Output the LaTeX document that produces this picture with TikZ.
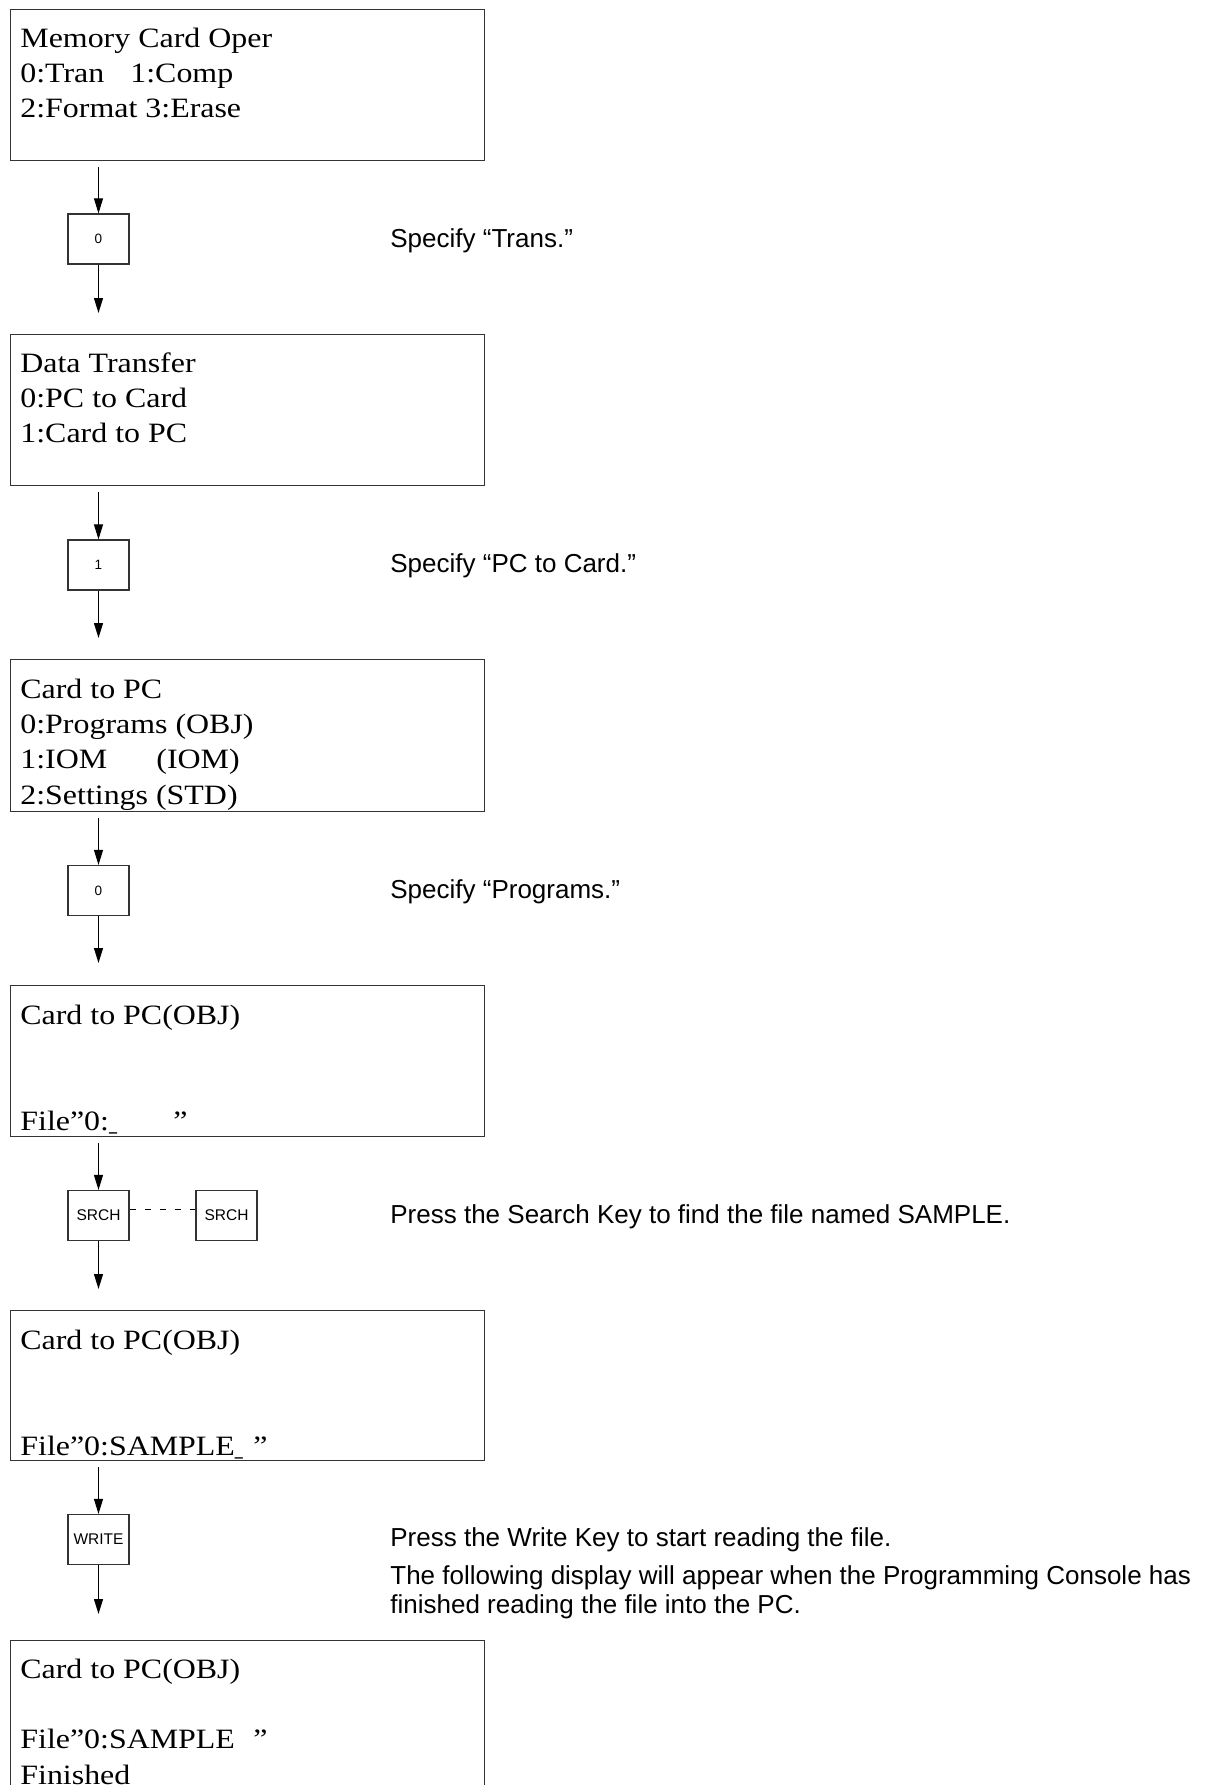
\documentclass[tikz,border=0pt]{standalone}
\usepackage{fontspec}
\setmainfont{Liberation Serif}
\newfontfamily\lcd[FakeStretch=1.14]{Liberation Serif}
\newfontfamily\hsans{Liberation Sans}
\usetikzlibrary{arrows.meta}
\tikzset{
  screen/.style={draw=black!80, line width=0.65pt, anchor=north west, minimum width=237pt, inner sep=0pt},
  lcdtext/.style={anchor=north west, inner sep=0pt, align=left, font=\lcd\fontsize{14pt}{17.6pt}\selectfont},
  keybox/.style={draw=black!80, line width=0.6pt, minimum width=30.5pt, minimum height=25pt, inner sep=0pt, font=\hsans\fontsize{7.75pt}{9pt}\selectfont},
  digit/.style={font=\hsans\fontsize{6.75pt}{8pt}\selectfont},
  note/.style={anchor=base west, inner sep=0pt, font=\hsans\fontsize{13pt}{14.5pt}\selectfont},
  arr/.style={line width=0.5pt, -{Triangle[length=7.5pt,width=4.5pt]}},
}
\begin{document}
\begin{tikzpicture}[x=0.5pt,y=-0.5pt]
\useasboundingbox (0,0) rectangle (1207,1785);
\clip (0,0) rectangle (1207,1785);

% screens
\node[screen, minimum height=75.5pt] (s1) at (9.5,9) {};
\node[screen, minimum height=75.5pt] (s2) at (9.5,334) {};
\node[screen, minimum height=76pt] (s3) at (9.5,659) {};
\node[screen, minimum height=75.5pt] (s4) at (9.5,985) {};
\node[screen, minimum height=75pt] (s5) at (9.5,1310) {};
\node[screen, minimum height=85pt] (s6) at (9.5,1640) {};

\node[lcdtext] (s1t) at ([xshift=5.25pt]s1.north west) {\rule{0pt}{19pt}Memory Card Oper\\\rlap{0:Tran}\hspace{55pt}1:Comp\\2:Format 3:Erase};
\node[lcdtext] (s2t) at ([xshift=5.25pt]s2.north west) {\rule{0pt}{19pt}Data Transfer\\0:PC to Card\\1:Card to PC};
\node[lcdtext] (s3t) at ([xshift=5.25pt]s3.north west) {\rule{0pt}{19.5pt}Card to PC\\0:Programs (OBJ)\\\rlap{1:IOM}\hspace{68pt}(IOM)\\2:Settings (STD)};
\node[lcdtext] (s4t) at ([xshift=5.25pt]s4.north west) {\rule{0pt}{19.5pt}Card to PC(OBJ)\\\mbox{}\\\mbox{}\\\rlap{File”0:\scalebox{0.5}[1]{\_}}\hspace{76.5pt}”};
\node[lcdtext] (s5t) at ([xshift=5.25pt]s5.north west) {\rule{0pt}{19.5pt}Card to PC(OBJ)\\\mbox{}\\\mbox{}\\\rlap{File”0:SAMPLE\scalebox{0.5}[1]{\_}}\hspace{116.5pt}”};
\node[lcdtext] (s6t) at ([xshift=5.25pt]s6.north west) {\rule{0pt}{19pt}Card to PC(OBJ)\\\mbox{}\\\rlap{File”0:SAMPLE}\hspace{116.5pt}”\\Finished};

% keys
\node[keybox] (k1) at (98.5,239) {\hsans\fontsize{6.75pt}{8pt}\selectfont 0};
\node[keybox] (k2) at (98.5,565) {\hsans\fontsize{6.75pt}{8pt}\selectfont 1};
\node[keybox] (k3) at (98.5,890.5) {\hsans\fontsize{6.75pt}{8pt}\selectfont 0};
\node[keybox] (k4a) at (98.5,1215.5) {SRCH};
\node[keybox] (k4b) at (226.5,1215.5) {SRCH};
\node[keybox] (k5) at (98.5,1539.5) {WRITE};

% arrows
\draw[arr, shorten <=3pt] (k1 |- s1.south) -- (k1.north);
\draw[arr, shorten >=10.5pt] (k1.south) -- (k1 |- s2.north);
\draw[arr, shorten <=3pt] (k2 |- s2.south) -- (k2.north);
\draw[arr, shorten >=10.5pt] (k2.south) -- (k2 |- s3.north);
\draw[arr, shorten <=3pt] (k3 |- s3.south) -- (k3.north);
\draw[arr, shorten >=11pt] (k3.south) -- (k3 |- s4.north);
\draw[arr, shorten <=3pt] (k4a |- s4.south) -- (k4a.north);
\draw[arr, shorten >=10.5pt] (k4a.south) -- (k4a |- s5.north);
\draw[arr, shorten <=3pt] (k5 |- s5.south) -- (k5.north);
\draw[arr, shorten >=13pt] (k5.south) -- (k5 |- s6.north);
\draw[line width=0.5pt, dash pattern=on 3.3pt off 4.2pt] ([yshift=3.25pt]k4a.east) -- ([yshift=3.25pt]k4b.west);

% notes
\node[note] (n1) at (390,247) {Specify “Trans.”};
\node[note] (n2) at (390,572) {Specify “PC to Card.”};
\node[note] (n3) at (390,898) {Specify “Programs.”};
\node[note] (n4) at (390,1223) {Press the Search Key to find the file named SAMPLE.};
\node[note] (n5) at (390,1546) {Press the Write Key to start reading the file.};
\node[note, anchor=north west, align=left] (n6) at (390,1564) {\rule{0pt}{10pt}The following display will appear when the Programming Console has\\finished reading the file into the PC.};
\end{tikzpicture}
\end{document}
